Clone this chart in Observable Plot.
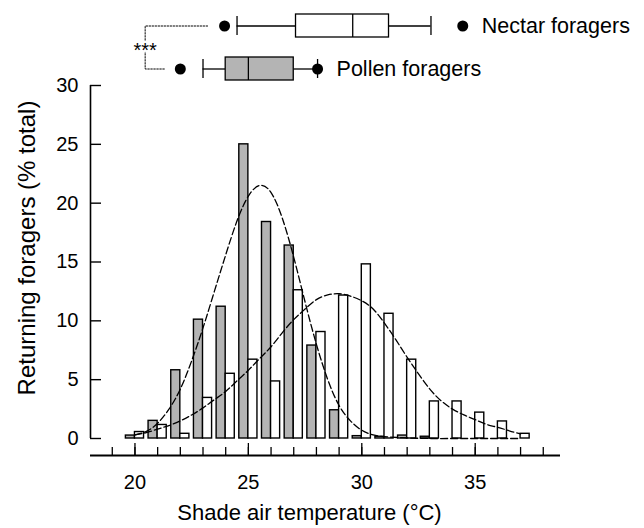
<!DOCTYPE html>
<html><head><meta charset="utf-8">
<script src="https://cdn.jsdelivr.net/npm/d3@7"></script>
<script src="https://cdn.jsdelivr.net/npm/@observablehq/plot@0.6"></script>
<style>
body{margin:0;background:#fff;}
#wrap{position:relative;width:644px;height:528px;}
#wrap svg{position:absolute;left:0;top:0;overflow:visible;}
</style></head><body><div id="wrap"></div>
<script>
// ---- data ----
const temps  = [20,21,22,23,24,25,26,27,28,29,30,31,32,33,34,35,36,37];
const pollen = [0.25,1.5,5.8,10.1,11.2,25.0,18.4,16.4,7.9,2.4,0.2,0.15,0.25,0.15,0,0,0,0];
const nectar = [0.55,1.15,0.4,3.45,5.5,6.7,4.85,12.6,9.05,12.15,14.8,10.6,6.7,3.15,3.15,2.2,1.45,0.4];

const curveT       = [20,20.5,21,21.5,22,22.5,23,23.5,24,24.5,25,25.5,26,26.5,27,27.5,28,28.5,29,29.5,30,30.5,31,32,33,34,35,36,37];
const pollenCurveV = [0.3,0.6,1.3,2.5,4.2,6.6,9.4,12.5,15.6,18.5,20.6,21.5,20.9,18.7,15.4,11.6,8.0,5.0,2.8,1.5,0.7,0.3,0.15,0.05,0,0,0,0,0];
const nectarCurveT = [20,20.5,21,21.5,22,22.5,23,23.5,24,24.5,25,25.5,26,26.5,27,27.5,28,28.5,29,29.5,30,30.5,31,31.5,32,32.5,33,33.5,34,34.5,35,35.5,36,36.5,37];
const nectarCurveV = [0.3,0.5,0.8,1.1,1.5,2.0,2.6,3.3,4.0,4.9,5.8,6.8,7.8,9.0,10.1,11.0,11.8,12.2,12.3,12.1,11.7,11.0,9.8,8.4,6.9,5.5,4.2,3.2,2.5,2.0,1.6,1.2,0.95,0.65,0.4];

const groups = ["Nectar foragers", "Pollen foragers"];
const groupFill = ["white", "#b4b4b4"];
const p5  = [23.95, 22.0];
const p10 = [24.5, 23.0];
const q1  = [27.1, 24.0];
const med = [29.6, 25.0];
const q3  = [31.2, 27.0];
const p90 = [33.05, 28.05];
const p95 = [34.45, 28.05];
const sigText = "***";
const bracketX = [23.2, 20.45, 20.45, 21.35];
const bracketG = ["Nectar foragers", "Nectar foragers", "Pollen foragers", "Pollen foragers"];

const yTicks = [0,5,10,15,20,25,30];
const xMinor = d3.range(19, 39);
const xMajor = [20,25,30,35];
const xTitle = "Shade air temperature (°C)";
const yTitle = "Returning foragers (% total)";

// ---- build ----
const FONT = "'Liberation Sans', Arial, Helvetica, sans-serif";
const GRAY = "#b4b4b4";
const xDomain = [18.04, 38.76];
const barHalf = 0.4;
const rows = temps.map((t, i) => ({t, pollen: pollen[i], nectar: nectar[i]}));
const pCurve = curveT.map((t, i) => ({t, v: pollenCurveV[i]}));
const nCurve = nectarCurveT.map((t, i) => ({t, v: nectarCurveV[i]}));
const box = groups.map((g, i) => ({g, fill: groupFill[i], p5: p5[i], p10: p10[i], q1: q1[i], med: med[i], q3: q3[i], p90: p90[i], p95: p95[i]}));
const bracket = bracketX.map((x, i) => ({x, g: bracketG[i]}));

const main = Plot.plot({
  width: 644, height: 528,
  marginTop: 85, marginBottom: 90, marginLeft: 90, marginRight: 84,
  x: {domain: xDomain},
  y: {domain: [0, 30]},
  style: {fontFamily: FONT, overflow: "visible", background: "transparent", color: "black"},
  marks: [
    Plot.rectY(rows.filter(d => d.pollen > 0), {x1: d => d.t - barHalf, x2: "t", y1: 0, y2: "pollen", fill: GRAY, stroke: "black", strokeWidth: 1.4}),
    Plot.rectY(rows.filter(d => d.nectar > 0), {x1: "t", x2: d => d.t + barHalf, y1: 0, y2: "nectar", fill: "white", stroke: "black", strokeWidth: 1.4}),
    Plot.line(pCurve, {x: "t", y: "v", curve: "natural", stroke: "black", strokeWidth: 1.3, strokeDasharray: "7,3"}),
    Plot.line(nCurve, {x: "t", y: "v", curve: "natural", stroke: "black", strokeWidth: 1.3, strokeDasharray: "7,3"}),
    Plot.ruleX([xDomain[0]], {strokeWidth: 1.6}),
    Plot.ruleY([0], {dy: 17, strokeWidth: 2.2}),
    Plot.axisY({ticks: yTicks, tickSize: -11, tickFormat: () => "", label: null, strokeWidth: 1.4}),
    Plot.axisY({ticks: yTicks, tickSize: 0, tickPadding: 12, fontSize: 20, label: null}),
    Plot.axisX({ticks: xMinor, tickSize: -8, tickFormat: () => "", dy: 17, label: null, strokeWidth: 1.3}),
    Plot.axisX({ticks: xMajor, tickSize: -12, tickFormat: () => "", dy: 17, label: null, strokeWidth: 1.3}),
    Plot.axisX({ticks: xMajor, tickSize: 0, tickPadding: 36, fontSize: 20, label: null}),
    Plot.text([xTitle], {frameAnchor: "bottom", textAnchor: "middle", lineAnchor: "middle", dx: -16, dy: 74, fontSize: 22}),
    Plot.text([yTitle], {frameAnchor: "left", textAnchor: "middle", lineAnchor: "middle", rotate: -90, dx: -63, dy: -14, fontSize: 24})
  ]
});

const topChart = Plot.plot({
  width: 644, height: 85,
  marginTop: 13, marginBottom: 4.5, marginLeft: 90, marginRight: 84,
  x: {domain: xDomain, axis: null},
  y: {type: "band", domain: groups, paddingInner: 0.46, paddingOuter: 0, axis: null},
  color: {type: "identity"},
  style: {fontFamily: FONT, overflow: "visible", background: "transparent", color: "black"},
  marks: [
    Plot.line(bracket, {x: "x", y: "g", stroke: "black", strokeWidth: 1, strokeDasharray: "1.5,1.5"}),
    Plot.text([sigText], {x: [bracketX[1]], y: ["Pollen foragers"], text: d => d, dy: -18, fontSize: 20, fill: "black", stroke: "white", strokeWidth: 4, paintOrder: "stroke"}),
    Plot.ruleY(box, {x1: "p10", x2: "q1", y: "g", strokeWidth: 1.3}),
    Plot.ruleY(box, {x1: "q3", x2: "p90", y: "g", strokeWidth: 1.3}),
    Plot.tickX(box, {x: "p10", y: "g", insetTop: 2, insetBottom: 2, strokeWidth: 1.3}),
    Plot.tickX(box, {x: "p90", y: "g", insetTop: 2, insetBottom: 2, strokeWidth: 1.3}),
    Plot.barX(box, {x1: "q1", x2: "q3", y: "g", fill: "fill", stroke: "black", strokeWidth: 1.3}),
    Plot.tickX(box, {x: "med", y: "g", strokeWidth: 1.3}),
    Plot.dot(box, {x: "p5", y: "g", r: 5.5, fill: "black"}),
    Plot.dot(box, {x: "p95", y: "g", r: 5.5, fill: "black"}),
    Plot.text(box, {x: "p95", y: "g", text: "g", dx: 19, textAnchor: "start", fontSize: 21.5, fill: "black"})
  ]
});

const wrap = document.getElementById("wrap");
wrap.appendChild(main);
wrap.appendChild(topChart);
</script></body></html>
